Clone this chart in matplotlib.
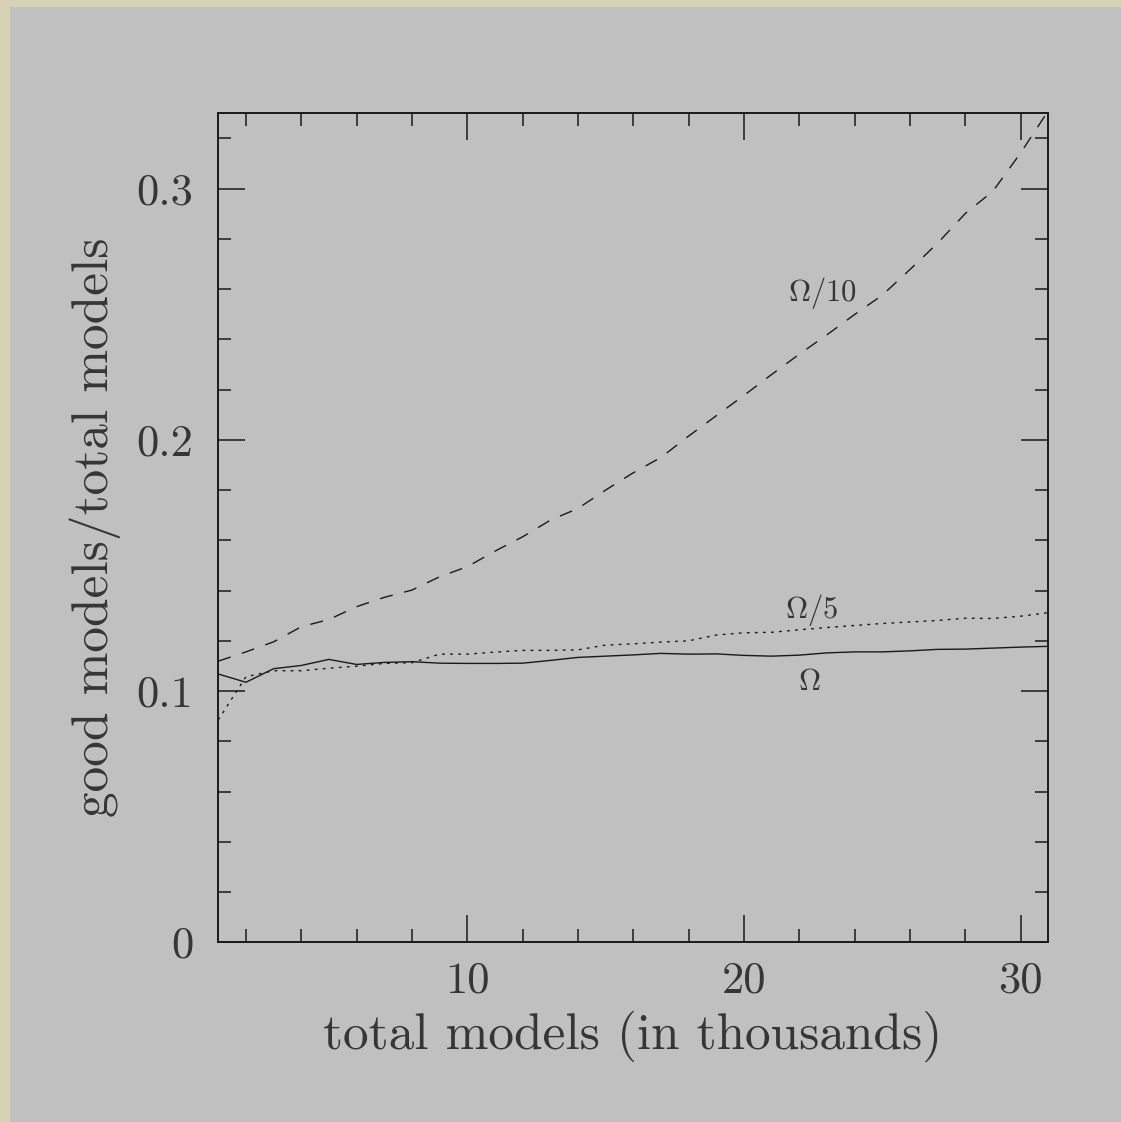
import numpy as np
import matplotlib

matplotlib.use("Agg")
import matplotlib.pyplot as plt
from matplotlib.patches import Rectangle
from matplotlib.ticker import MultipleLocator, FixedLocator

# ── Data ──────────────────────────────────────────────────────────────────────
total_k = list(range(1, 32))  # total models, in thousands

frac_omega = [0.1068, 0.1035, 0.1089, 0.1102, 0.1126, 0.1106, 0.1114, 0.1117,
              0.1111, 0.1110, 0.1110, 0.1111, 0.1122, 0.1134, 0.1139, 0.1144,
              0.1150, 0.1147, 0.1148, 0.1142, 0.1139, 0.1143, 0.1152, 0.1156,
              0.1156, 0.1160, 0.1166, 0.1167, 0.1171, 0.1175, 0.1178]

frac_omega5 = [0.0885, 0.1057, 0.1081, 0.1081, 0.1091, 0.1099, 0.1110, 0.1113,
               0.1147, 0.1147, 0.1155, 0.1162, 0.1162, 0.1164, 0.1183, 0.1188,
               0.1195, 0.1200, 0.1223, 0.1232, 0.1234, 0.1244, 0.1253, 0.1261,
               0.1269, 0.1275, 0.1281, 0.1290, 0.1289, 0.1298, 0.1312]

frac_omega10 = [0.1119, 0.1156, 0.1196, 0.1256, 0.1285, 0.1336, 0.1373, 0.1402,
                0.1455, 0.1495, 0.1557, 0.1614, 0.1680, 0.1727, 0.1800, 0.1869,
                0.1930, 0.2015, 0.2096, 0.2177, 0.2260, 0.2341, 0.2418, 0.2499,
                0.2576, 0.2678, 0.2783, 0.2901, 0.2990, 0.3142, 0.3310]

curve_labels = [r"$\Omega$", r"$\Omega/5$", r"$\Omega/10$"]
label_xy = [(22.35, 0.1036), (22.46, 0.1322), (22.82, 0.2584)]

xticks = [10, 20, 30]
xticklabels = ["10", "20", "30"]
yticks = [0.0, 0.1, 0.2, 0.3]
yticklabels = ["0", "0.1", "0.2", "0.3"]

# ── Style ─────────────────────────────────────────────────────────────────────
plt.rcParams["font.family"] = "cmr10"
plt.rcParams["mathtext.fontset"] = "cm"
plt.rcParams["axes.formatter.use_mathtext"] = True
plt.rcParams["lines.scale_dashes"] = False

PANEL = "#c0c0c0"
INK = "#1a1a1a"
TXT = "#363636"

fig = plt.figure(figsize=(11.21, 11.22), dpi=100)
fig.patch.set_facecolor("#d5d3b3")
# grey panel sitting on the beige page border (left and top edges only)
fig.patches.append(Rectangle((10 / 1121, 0), 1, 1 - 7 / 1122,
                             transform=fig.transFigure, facecolor=PANEL,
                             edgecolor="none", zorder=-10))

ax = fig.add_axes([0.1947, 0.1602, 0.7404, 0.7388])
ax.set_facecolor(PANEL)

ax.plot(total_k, frac_omega, color=INK, lw=1.0)
ax.plot(total_k, frac_omega5, color=INK, lw=1.0, dashes=(2.0, 3.8))
ax.plot(total_k, frac_omega10, color=INK, lw=1.0, dashes=(9.4, 8.5))

for lab, (lx, ly) in zip(curve_labels, label_xy):
    ax.text(lx, ly, lab, fontsize=22, color=TXT, ha="center", va="center")

ax.set_xlim(1, 31)
ax.set_ylim(0, 0.33)

ax.xaxis.set_major_locator(FixedLocator(xticks))
ax.set_xticklabels(xticklabels)
ax.xaxis.set_minor_locator(MultipleLocator(2))
ax.yaxis.set_major_locator(FixedLocator(yticks))
ax.set_yticklabels(yticklabels)
ax.yaxis.set_minor_locator(MultipleLocator(0.02))

ax.tick_params(which="both", direction="in", top=True, right=True,
               colors=INK, labelcolor=TXT, labelsize=32, width=1.1)
ax.tick_params(which="major", length=19.4)
ax.tick_params(which="minor", length=9.4)
ax.tick_params(axis="y", pad=18)
ax.tick_params(axis="x", pad=14)

for s in ax.spines.values():
    s.set_linewidth(1.4)
    s.set_color(INK)

fig.text(633 / 1121, 1 - 1036 / 1122, "total models (in thousands)",
         fontsize=37, color=TXT, ha="center", va="center")
fig.text(95 / 1121, 1 - 527 / 1122, "good models/total models",
         fontsize=37, color=TXT, ha="center", va="center", rotation=90)

fig.savefig("out.png", dpi=100, facecolor=fig.get_facecolor())
